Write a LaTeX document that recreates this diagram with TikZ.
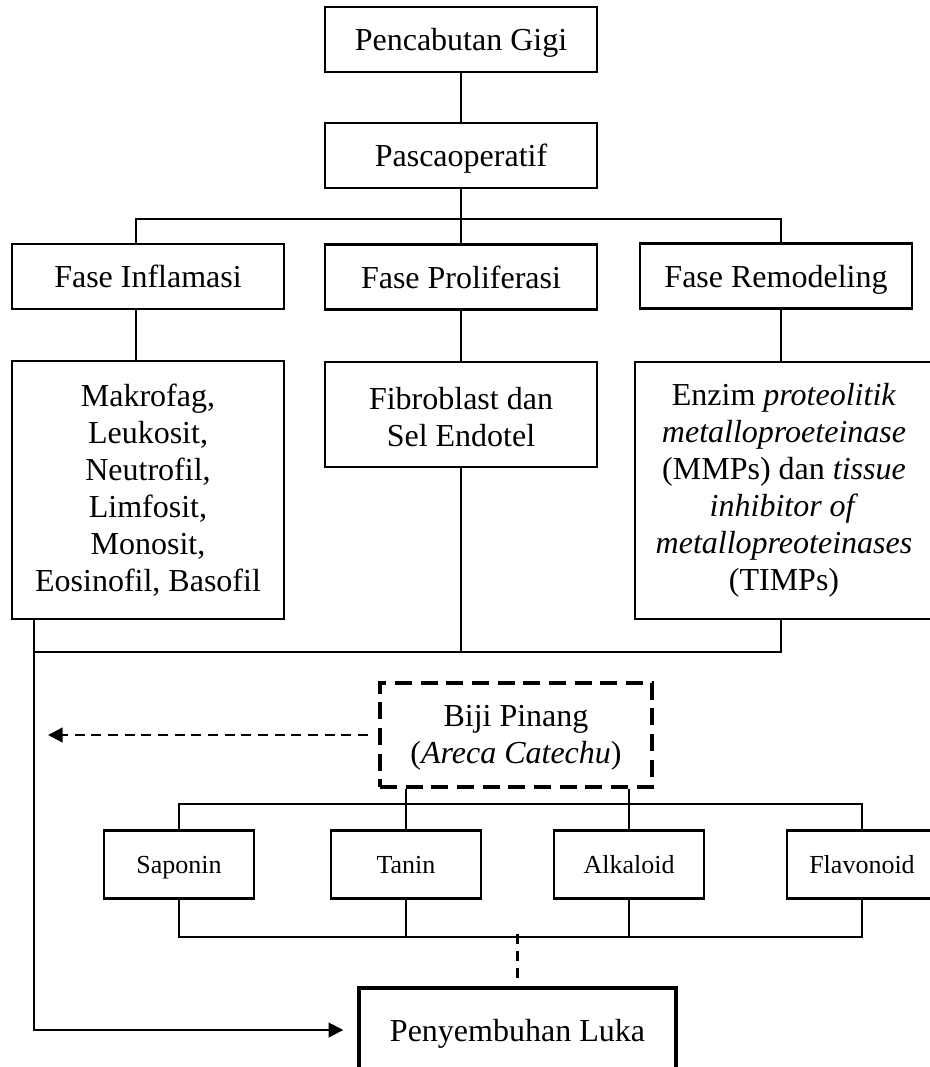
\documentclass[tikz,border=0pt]{standalone}
\usepackage{fontspec}
\setmainfont{Liberation Serif}
\usetikzlibrary{arrows.meta}

\begin{document}
\begin{tikzpicture}[x=0.75pt, y=-0.75pt,
    box/.style={draw, line width=1.6pt, inner sep=0pt, align=center,
        minimum width=204pt, minimum height=48.75pt,
        font=\fontsize{24}{27.75}\selectfont},
    onerow/.style={text height=16.5pt, text depth=0pt},
    smallbox/.style={draw, line width=1.6pt, inner sep=0pt,
        minimum width=112.5pt, minimum height=51pt,
        text height=12.9pt, text depth=0pt,
        font=\fontsize{19.5}{23}\selectfont},
    link/.style={line width=1.5pt},
    dashline/.style={line width=1.7pt, dash pattern=on 7.5pt off 5pt},
    tip/.style={-{Triangle[length=11pt, width=11pt]}}]

    \useasboundingbox (0,0) rectangle (929,1067);

    % top of the tree
    \node[box, onerow] (top)    at (461,39.5)  {Pencabutan Gigi};
    \node[box, onerow] (pasca)  at (461,155.5) {Pascaoperatif};

    % the three phases
    \node[box, onerow] (infl)   at (148,276.5) {Fase Inflamasi};
    \node[box, onerow] (prolif) at (461,277)   {Fase Proliferasi};
    \node[box, onerow] (remod)  at (776,276)   {Fase Remodeling};

    \node[box, minimum height=193.5pt] (makro) at (148,490)
        {Makrofag,\\Leukosit,\\Neutrofil,\\Limfosit,\\Monosit,\\Eosinofil, Basofil};
    \node[box, minimum height=78.75pt] (fibro) at (461,414.5)
        {\rule{0pt}{20pt}Fibroblast dan\\Sel Endotel};
    \node[box, minimum width=223.5pt, minimum height=192.75pt] (enzim) at (784,490.5)
        {Enzim \textit{proteolitik}\\\textit{metalloproeteinase}\\(MMPs) dan \textit{tissue}\\\textit{inhibitor of}\\\textit{metallopreoteinases}\\(TIMPs)};

    % areca nut and its compounds
    \node[box, minimum height=78pt, line width=3pt, dash pattern=on 12.75pt off 6.5pt] (biji) at (516,735)
        {\rule{0pt}{20pt}Biji Pinang\\(\textit{Areca Catechu})};
    \node[smallbox] (sapo)  at (179,864.5) {Saponin};
    \node[smallbox] (tanin) at (406,864.5) {Tanin};
    \node[smallbox] (alka)  at (629,864.5) {Alkaloid};
    \node[smallbox] (flavo) at (862,864.5) {Flavonoid};

    \node[box, onerow, minimum width=237.75pt, minimum height=63pt, line width=2.6pt] (luka) at (517.5,1030)
        {Penyembuhan Luka};

    \coordinate (join) at (34,652);
    \coordinate (hint) at (48,735);

    \draw[link] (top.south) -- (pasca.north);
    \draw[link] (pasca.south) -- (prolif.north);
    \draw[link] ([xshift=-9pt]infl.north) -- ++(0,-24) -| ([xshift=3.75pt]remod.north);

    \draw[link] ([xshift=-9pt]infl.south) -- ([xshift=-9pt]makro.north);
    \draw[link] (prolif.south) -- (fibro.north);
    \draw[link] ([xshift=3.75pt]remod.south) -- ([xshift=-2.25pt]enzim.north);

    \draw[link] ([xshift=-2.25pt]enzim.south) |- (join);
    \draw[link] (fibro.south) -- (fibro.south |- join);
    \draw[link, tip, shorten >=10.5pt] ([xshift=-85.5pt]makro.south) |- (luka.west);

    \draw[dashline, tip, shorten <=7.5pt] (biji.west) -- (hint);

    \draw[link] (biji.south -| tanin.north) -- (tanin.north);
    \draw[link] (biji.south -| alka.north) -- (alka.north);
    \draw[link] (sapo.north) -- ++(0,-25) -| (flavo.north);
    \draw[link] (sapo.south) -- ++(0,37) -| (flavo.south);
    \draw[link] (tanin.south) -- ++(0,37);
    \draw[link] (alka.south) -- ++(0,37);
    \draw[dashline, shorten >=4.5pt] ([yshift=39pt]luka.north) -- (luka.north);
\end{tikzpicture}
\end{document}
